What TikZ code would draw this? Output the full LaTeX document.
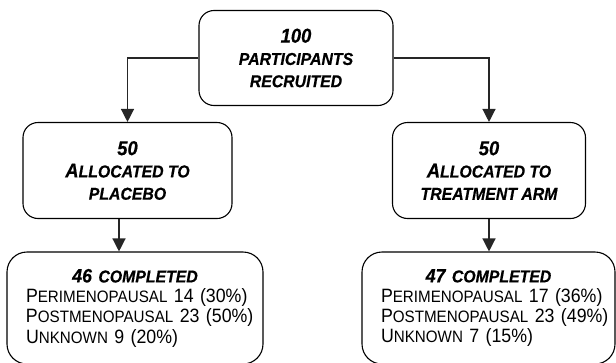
\documentclass[tikz,border=0pt]{standalone}
\usepackage{fontspec}
\setmainfont{Liberation Sans}[FakeStretch=0.92, BoldItalicFeatures={FakeBold=0.5}]
\usetikzlibrary{arrows.meta}
\setlength\parindent{0pt}
\newcommand\lowcap[2][17.2]{{\fontsize{#1}{#1}\selectfont #2}}
\newcommand\oneline[1]{\mbox{#1}\par}
\begin{document}
\begin{tikzpicture}[x=1pt,y=-1pt]
	\tikzstyle{Box} = [draw, rounded corners=15pt, line width=1.1pt, inner sep=0pt, align=center, font=\fontsize{20}{22.3}\selectfont\bfseries\itshape]
	\tikzstyle{Done} = [draw, rounded corners=20pt, line width=1.1pt, inner sep=0pt, font=\fontsize{19.3}{20.2}\selectfont]
	\tikzstyle{Link} = [line width=1.3pt, draw=black!85, -{Triangle[width=13pt,length=13pt]}]
	\useasboundingbox (0,0) rectangle (616,362);
	\node (R) at (296,58) [Box, minimum width=194, minimum height=95] {100\\\lowcap{PARTICIPANTS}\\\lowcap{RECRUITED}};
	\node (P) at (127.5,170.5) [Box, minimum width=209, minimum height=96] {50\\A\lowcap{LLOCATED TO}\\\lowcap{PLACEBO}};
	\node (T) at (489,170.5) [Box, minimum width=193, minimum height=96] {50\\A\lowcap{LLOCATED TO}\\\lowcap{TREATMENT ARM}};
	\node (CP) at (135,308) [Done, minimum width=256, minimum height=112, text width=218] {{\centering\bfseries\itshape 46 \lowcap{COMPLETED}\par}\oneline{P\lowcap[16.5]{ERIMENOPAUSAL} 14 (30\%)}\oneline{P\lowcap[16.5]{OSTMENOPAUSAL} 23 (50\%)}\oneline{U\lowcap[16.5]{NKNOWN} 9 (20\%)}};
	\node (CT) at (488.5,308) [Done, minimum width=253, minimum height=112, text width=215] {{\centering\bfseries\itshape 47 \lowcap{COMPLETED}\par}\oneline{P\lowcap[16.5]{ERIMENOPAUSAL} 17 (36\%)}\oneline{P\lowcap[16.5]{OSTMENOPAUSAL} 23 (49\%)}\oneline{U\lowcap[16.5]{NKNOWN} 7 (15\%)}};
	\draw [Link] (R) -| (P);
	\draw [Link] (R) -| (T);
	\draw [Link] ([xshift=-8.5pt]P.south) coordinate (a) -- (a |- CP.north);
	\draw [Link] (T.south) -- (T.south |- CT.north);
\end{tikzpicture}
\end{document}
